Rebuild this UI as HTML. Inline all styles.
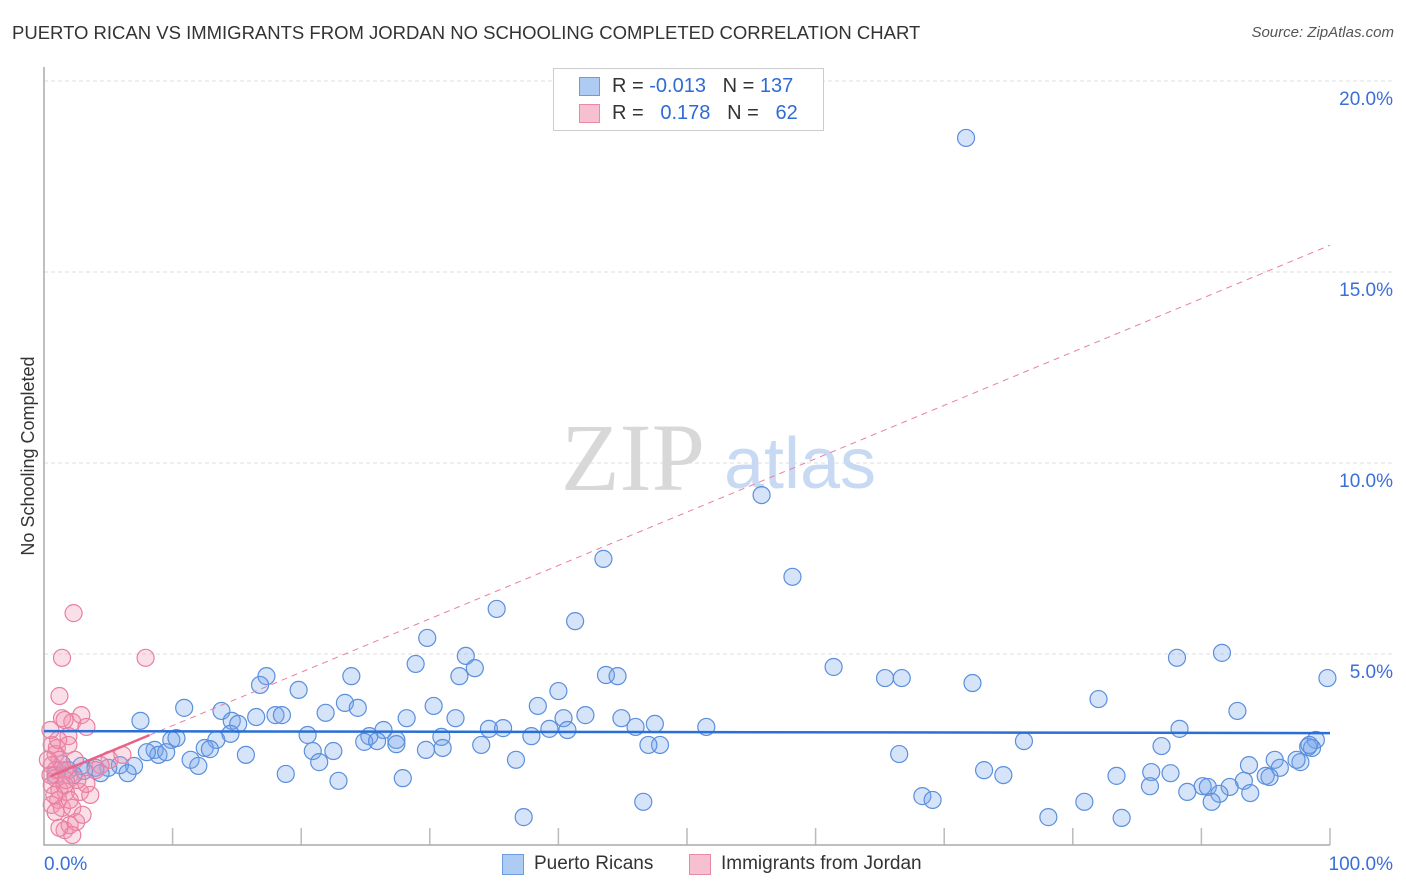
<!DOCTYPE html>
<html><head><meta charset="utf-8">
<style>
body{margin:0;background:#fff;font-family:"Liberation Sans",sans-serif;}
#wrap{position:relative;width:1406px;height:892px;overflow:hidden;}
.t{position:absolute;white-space:nowrap;}
</style></head>
<body>
<div id="wrap">
<div class="t" style="left:12px;top:22px;font-size:18.5px;color:#333;">PUERTO RICAN VS IMMIGRANTS FROM JORDAN NO SCHOOLING COMPLETED CORRELATION CHART</div>
<div class="t" style="right:12px;top:24px;font-size:15px;color:#555;font-style:italic;">Source: ZipAtlas.com</div>
<svg id="plot" width="1406" height="892" style="position:absolute;left:0;top:0">
<text x="34" y="456" transform="rotate(-90 34 456)" text-anchor="middle" font-size="18" fill="#333" font-family="Liberation Sans, sans-serif">No Schooling Completed</text>
</svg>
<div style="position:absolute;left:553px;top:68px;width:269px;height:61px;border:1px solid #ccc;background:#fff;font-size:20px;color:#333;">
 <div style="position:absolute;left:25px;top:8px;width:19px;height:17px;background:#aecbf3;border:1px solid #6c9be0;"></div>
 <div class="t" style="left:58px;top:6px;">R = <span style="color:#2f6bd4">-0.013</span>&nbsp;&nbsp;&nbsp;N = <span style="color:#2f6bd4">137</span></div>
 <div style="position:absolute;left:25px;top:35px;width:19px;height:17px;background:#f7c0d0;border:1px solid #eb8aa6;"></div>
 <div class="t" style="left:58px;top:33px;">R = &nbsp;&nbsp;<span style="color:#2f6bd4">0.178</span>&nbsp;&nbsp;&nbsp;N = &nbsp;&nbsp;<span style="color:#2f6bd4">62</span></div>
</div>
<div style="position:absolute;left:502px;top:852px;font-size:19px;color:#333;">
 <div style="position:absolute;left:0;top:2px;width:20px;height:19px;background:#aecbf3;border:1px solid #6c9be0;"></div>
 <div class="t" style="left:32px;top:1px;">Puerto Ricans</div>
 <div style="position:absolute;left:187px;top:2px;width:20px;height:19px;background:#f7c0d0;border:1px solid #eb8aa6;"></div>
 <div class="t" style="left:219px;top:1px;">Immigrants from Jordan</div>
</div>
</div>
<script>
const blueX=[71.7,55.8,43.5,58.2,35.2,41.3,29.8,61.4,88.1,91.6,32.8,28.9,33.5,17.3,23.9,32.3,43.7,44.6,65.4,66.7,72.2,99.8,16.8,19.8,40.0,10.9,23.4,24.4,82.0,30.3,38.4,13.8,18.0,18.5,21.9,42.1,92.8,7.5,14.6,16.5,15.1,28.2,32.0,40.4,44.9,47.5,26.4,34.6,35.7,39.3,40.7,46.0,51.5,88.3,9.9,10.3,13.4,20.5,25.3,27.4,30.9,14.5,24.9,25.9,27.4,34.0,37.9,47.9,47.0,76.2,86.9,8.6,8.9,8.0,12.5,9.5,12.9,15.7,20.9,22.5,29.7,31.0,98.9,98.3,93.7,95.7,97.7,96.1,11.4,12.0,18.8,21.4,36.7,66.5,7.0,5.9,5.0,2.9,3.1,4.0,4.4,6.5,1.4,1.9,0.9,2.3,22.9,27.9,73.1,74.6,83.4,86.1,87.6,95.0,93.3,86.0,88.9,90.1,90.5,92.2,91.4,93.8,90.8,68.3,69.1,46.6,80.9,37.3,78.1,83.8,98.6,97.4,98.4,95.3];
const blueY=[18.51,9.16,7.49,7.02,6.18,5.86,5.42,4.66,4.90,5.03,4.95,4.74,4.63,4.42,4.42,4.42,4.45,4.42,4.37,4.37,4.24,4.37,4.19,4.06,4.03,3.59,3.72,3.59,3.82,3.64,3.64,3.51,3.40,3.40,3.46,3.40,3.51,3.25,3.25,3.35,3.17,3.32,3.32,3.32,3.32,3.17,3.01,3.04,3.06,3.04,3.01,3.09,3.09,3.04,2.75,2.80,2.75,2.88,2.85,2.75,2.83,2.91,2.70,2.72,2.64,2.62,2.85,2.62,2.62,2.72,2.59,2.49,2.36,2.43,2.54,2.43,2.51,2.36,2.46,2.46,2.49,2.54,2.75,2.57,2.09,2.23,2.17,2.02,2.23,2.07,1.86,2.17,2.23,2.38,2.07,2.09,2.02,2.07,1.94,2.02,1.88,1.88,2.12,1.96,1.83,1.83,1.68,1.75,1.96,1.83,1.81,1.91,1.88,1.81,1.68,1.54,1.39,1.54,1.52,1.52,1.34,1.36,1.13,1.28,1.18,1.13,1.13,0.73,0.73,0.71,2.54,2.23,2.62,1.78];
const pinkX=[2.3,1.4,7.9,1.2,1.4,2.2,1.6,2.9,3.3,1.9,0.6,1.0,0.9,1.2,0.6,0.9,0.5,0.9,1.6,2.0,0.6,1.2,1.7,1.1,0.6,1.4,0.9,2.2,2.8,3.6,3.3,5.1,6.1,4.4,1.6,2.0,2.5,2.2,1.2,3.0,4.0,0.3,1.1,0.5,1.9,2.4,1.6,2.0,0.8,1.7,2.6];
const pinkY=[6.07,4.90,4.90,3.90,3.32,3.22,3.27,3.40,3.09,2.85,2.62,2.54,2.38,2.23,2.09,1.96,1.83,1.75,1.96,1.83,1.57,1.44,1.39,1.18,1.05,0.97,0.86,0.97,1.39,1.31,1.60,2.23,2.36,2.09,0.39,0.52,0.60,0.26,0.45,0.79,1.96,2.23,2.75,3.01,2.62,2.23,1.57,1.18,1.31,1.70,1.70];
const yTicks=[5,10,15,20];
const yTickLabels=["5.0%","10.0%","15.0%","20.0%"];
const xTicks=[0,10,20,30,40,50,60,70,80,90,100];
const blueTrend=[2.98,2.93];
const pinkTrend=[1.73,15.7];
const pinkSolidEnd=8.2;

const X=v=>44+v*12.86, Y=v=>845-v*38.2;
const svg=document.getElementById('plot');
const NS='http://www.w3.org/2000/svg';
function mk(tag,attrs){const e=document.createElementNS(NS,tag);for(const k in attrs)e.setAttribute(k,attrs[k]);svg.appendChild(e);return e;}
yTicks.forEach((t,i)=>{
 const g=mk('line',{x1:44,x2:1394,y1:Y(t),y2:Y(t),stroke:'#ddd','stroke-dasharray':'4,3'});
 
 
 const l=mk('text',{x:1393,y:Y(t)+24,'text-anchor':'end','font-size':19,fill:'#3a6fd8','font-family':'Liberation Sans, sans-serif'});
 l.textContent=yTickLabels[i];
 
 
});
xTicks.forEach(t=>{if(t===0)return;
 const k=mk('line',{x1:X(t),x2:X(t),y1:828,y2:845,stroke:'#bbb','stroke-width':1.5});
 
 
});
const ax=mk('path',{d:'M44,67 V845 H1330',fill:'none',stroke:'#aaa','stroke-width':1.5});


[['0.0%',44,'start'],['100.0%',1393,'end']].forEach(a=>{
 const l=mk('text',{x:a[1],y:870,'text-anchor':a[2],'font-size':19,fill:'#3a6fd8','font-family':'Liberation Sans, sans-serif'});
 l.textContent=a[0];
 
 
});
const w1=mk('text',{x:633,y:490,'text-anchor':'middle','font-size':96,fill:'#d8d8d8','font-family':'Liberation Serif, serif'});
w1.textContent='ZIP';


const w2=mk('text',{x:800,y:488,'text-anchor':'middle','font-size':72,fill:'#c8daf3','font-family':'Liberation Sans, sans-serif'});
w2.textContent='atlas';


blueX.forEach((x,i)=>{
 const c=mk('circle',{cx:X(x),cy:Y(blueY[i]),r:8.5,fill:'rgba(120,165,235,0.3)',stroke:'#5b8fdc','stroke-width':1.2});
 
 
});
pinkX.forEach((x,i)=>{
 const c=mk('circle',{cx:X(x),cy:Y(pinkY[i]),r:8.5,fill:'rgba(242,150,180,0.3)',stroke:'#e97f9f','stroke-width':1.2});
 
 
});
const pt=v=>pinkTrend[0]+(pinkTrend[1]-pinkTrend[0])*v/100;
const pd=mk('line',{x1:X(pinkSolidEnd),y1:Y(pt(pinkSolidEnd)),x2:X(100),y2:Y(pt(100)),stroke:'#e97f9f','stroke-width':1,'stroke-dasharray':'6,5'});


const ps=mk('line',{x1:X(0.5),y1:Y(pt(0.5)),x2:X(pinkSolidEnd),y2:Y(pt(pinkSolidEnd)),stroke:'#e8628a','stroke-width':2.5});


const bt=mk('line',{x1:X(0),y1:Y(blueTrend[0]),x2:X(100),y2:Y(blueTrend[1]),stroke:'#2a6fd6','stroke-width':2.5});


</script>
</body></html>
